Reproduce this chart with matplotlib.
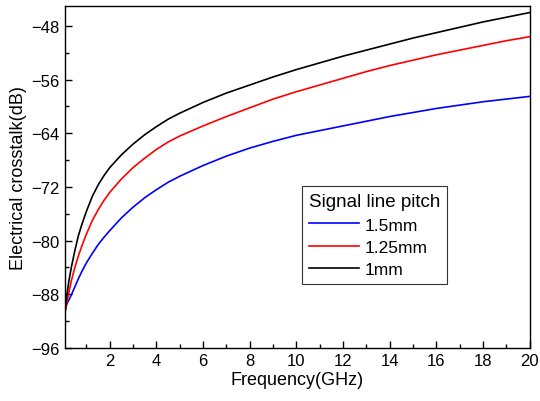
import matplotlib
matplotlib.use('Agg')
import matplotlib.pyplot as plt
from matplotlib.ticker import MultipleLocator

plt.rcParams['font.family'] = ['Liberation Sans', 'DejaVu Sans']

freq = [0.07, 0.15, 0.25, 0.35, 0.5, 0.65, 0.8, 1.0, 1.25, 1.5, 1.75, 2, 2.5, 3,
        3.5, 4, 4.5, 5, 6, 7, 8, 9, 10, 11, 12, 13, 14, 15, 16, 17, 18, 19, 20]

pitch_1mm = [-91.0, -88.3, -85.9, -84.0, -81.5, -79.3, -77.6, -75.6, -73.4, -71.7,
             -70.3, -69.1, -67.2, -65.6, -64.2, -63.0, -61.9, -61.0, -59.4, -58.0,
             -56.8, -55.6, -54.5, -53.5, -52.5, -51.6, -50.7, -49.8, -49.0, -48.2,
             -47.4, -46.7, -46.0]
pitch_125mm = [-91.0, -89.4, -87.6, -86.0, -84.0, -82.3, -80.8, -79.0, -77.0, -75.4,
               -74.0, -72.8, -70.8, -69.1, -67.7, -66.4, -65.3, -64.4, -62.9, -61.5,
               -60.2, -58.9, -57.8, -56.8, -55.8, -54.8, -53.9, -53.1, -52.3, -51.6,
               -50.9, -50.2, -49.6]
pitch_15mm = [-90.0, -89.5, -88.8, -88.1, -86.9, -85.7, -84.6, -83.3, -81.9, -80.6,
              -79.5, -78.5, -76.6, -75.0, -73.6, -72.4, -71.3, -70.4, -68.8, -67.4,
              -66.2, -65.2, -64.3, -63.6, -62.9, -62.2, -61.5, -60.9, -60.3, -59.8,
              -59.3, -58.9, -58.5]

labels = ['1.5mm', '1.25mm', '1mm']

fig = plt.figure(figsize=(5.4, 4.02), dpi=100)
ax = fig.add_axes([0.120, 0.132, 0.861, 0.851])

ax.plot(freq, pitch_15mm, color='#0000ff', lw=1.2, label=labels[0])
ax.plot(freq, pitch_125mm, color='#ff0000', lw=1.2, label=labels[1])
ax.plot(freq, pitch_1mm, color='black', lw=1.2, label=labels[2])

ax.set_xlim(0.07, 20)
ax.set_ylim(-96, -45)
ax.xaxis.set_minor_locator(MultipleLocator(1))
ax.yaxis.set_minor_locator(MultipleLocator(4))
ax.set_yticks([-96, -88, -80, -72, -64, -56, -48])
ax.set_xticks([2, 4, 6, 8, 10, 12, 14, 16, 18, 20])
ax.tick_params(which='major', direction='in', length=5, width=1, labelsize=12)
ax.tick_params(which='minor', direction='in', length=3, width=1)
for s in ax.spines.values():
    s.set_linewidth(1.0)

ax.set_xlabel('Frequency(GHz)', fontsize=13, labelpad=2)
ax.set_ylabel('Electrical crosstalk(dB)', fontsize=13, labelpad=3)

leg = ax.legend(title='Signal line pitch', loc='upper left', bbox_to_anchor=(0.51, 0.472),
                borderaxespad=0, fancybox=False, edgecolor='black', fontsize=12.5,
                title_fontsize=13.5, handlelength=2.9, handletextpad=0.3,
                labelspacing=0.4, borderpad=0.4, alignment='left')
leg.get_frame().set_linewidth(0.8)

fig.savefig('out.png', dpi=100)
